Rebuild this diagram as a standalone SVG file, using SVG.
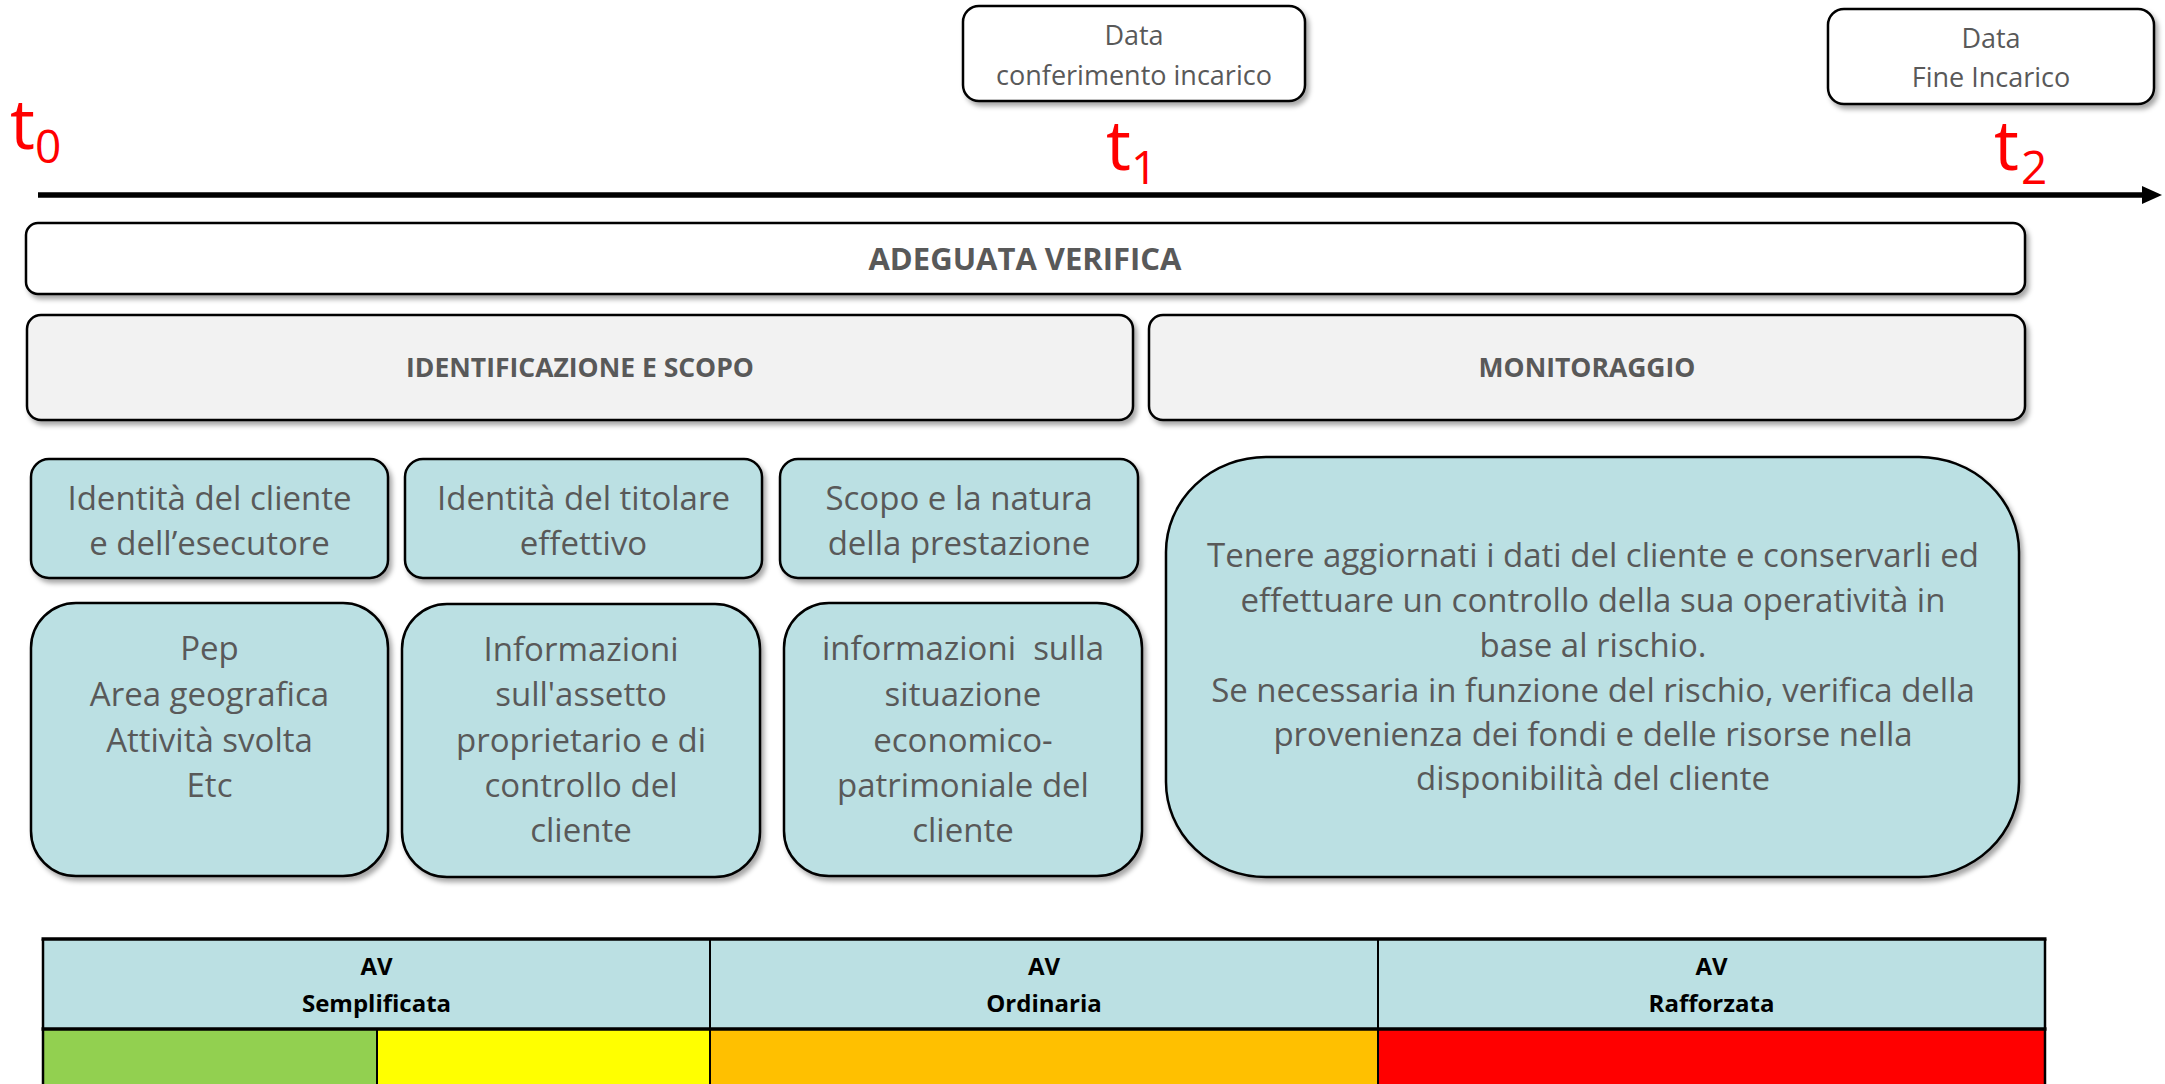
<svg xmlns="http://www.w3.org/2000/svg" width="2165" height="1084" viewBox="0 0 2165 1084">
<defs>
<filter id="sh" x="-5%" y="-5%" width="110%" height="120%">
<feDropShadow dx="3" dy="4" stdDeviation="2.5" flood-color="#000" flood-opacity="0.35"/>
</filter>
<marker id="ah" markerUnits="userSpaceOnUse" markerWidth="22" markerHeight="20" refX="2" refY="10" orient="auto">
<path d="M0,1 L20,10 L0,19 Z" fill="#000"/>
</marker>
<style>
.box{stroke:#000;stroke-width:2.5;filter:url(#sh)}
.white{fill:#fff}
.grey{fill:#f2f2f2}
.teal{fill:#bbe0e3}
.t{font-family:"Open Sans","Liberation Sans",sans-serif;fill:#595959;text-anchor:middle}
.n{font-size:33px}
.d{font-size:27px}
.b{font-weight:bold}
.red{font-family:"Open Sans","Liberation Sans",sans-serif;fill:#ff0000}
.tb{font-family:"Open Sans","Liberation Sans",sans-serif;font-weight:bold;font-size:24px;fill:#000;text-anchor:middle}
.ln{stroke:#000;fill:none}
</style>
</defs>
<rect width="2165" height="1084" fill="#fff"/>

<g id="connectors">
<line x1="38" y1="195" x2="2144" y2="195" stroke="#000" stroke-width="5.5" marker-end="url(#ah)"/>
</g>

<g id="t0">
<text class="red" x="10" y="149" font-size="70">t</text>
<text class="red" x="35" y="163" font-size="46">0</text>
</g>
<g id="t1">
<text class="red" x="1106" y="170" font-size="70">t</text>
<text class="red" x="1131" y="184" font-size="46">1</text>
</g>
<g id="t2">
<text class="red" x="1994" y="170" font-size="70">t</text>
<text class="red" x="2021" y="184" font-size="46">2</text>
</g>

<g id="data-conferimento">
<rect class="box white" x="963" y="6" width="342" height="95" rx="16"/>
<text class="t d" x="1134" y="45">Data</text>
<text class="t d" x="1134" y="85">conferimento incarico</text>
</g>
<g id="data-fine">
<rect class="box white" x="1828" y="9" width="326" height="95" rx="16"/>
<text class="t d" x="1991" y="48">Data</text>
<text class="t d" x="1991" y="87">Fine Incarico</text>
</g>

<g id="adeguata-verifica">
<rect class="box white" x="26" y="223" width="1999" height="71" rx="12"/>
<text class="t b" x="1025" y="270" font-size="31">ADEGUATA VERIFICA</text>
</g>
<g id="identificazione">
<rect class="box grey" x="27" y="315" width="1106" height="105" rx="14"/>
<text class="t b" x="580" y="377" font-size="26.5">IDENTIFICAZIONE E SCOPO</text>
</g>
<g id="monitoraggio">
<rect class="box grey" x="1149" y="315" width="876" height="105" rx="14"/>
<text class="t b" x="1587" y="377" font-size="26.5">MONITORAGGIO</text>
</g>

<g id="identita-cliente">
<rect class="box teal" x="31" y="459" width="357" height="119" rx="18"/>
<text class="t n" x="209.5" y="510">Identità del cliente</text>
<text class="t n" x="209.5" y="555">e dell’esecutore</text>
</g>
<g id="identita-titolare">
<rect class="box teal" x="405" y="459" width="357" height="119" rx="18"/>
<text class="t n" x="583.5" y="510">Identità del titolare</text>
<text class="t n" x="583.5" y="555">effettivo</text>
</g>
<g id="scopo-natura">
<rect class="box teal" x="780" y="459" width="358" height="119" rx="18"/>
<text class="t n" x="959" y="510">Scopo e la natura</text>
<text class="t n" x="959" y="555">della prestazione</text>
</g>

<g id="pep">
<rect class="box teal" x="31" y="603" width="357" height="273" rx="45"/>
<text class="t n" x="209.5" y="660">Pep</text>
<text class="t n" x="209.5" y="706">Area geografica</text>
<text class="t n" x="209.5" y="752">Attività svolta</text>
<text class="t n" x="209.5" y="797">Etc</text>
</g>
<g id="assetto">
<rect class="box teal" x="402" y="604" width="358" height="273" rx="45"/>
<text class="t n" x="581" y="661">Informazioni</text>
<text class="t n" x="581" y="706">sull'assetto</text>
<text class="t n" x="581" y="752">proprietario e di</text>
<text class="t n" x="581" y="797">controllo del</text>
<text class="t n" x="581" y="842">cliente</text>
</g>
<g id="situazione">
<rect class="box teal" x="784" y="603" width="358" height="273" rx="45"/>
<text class="t n" x="963" y="660" xml:space="preserve">informazioni  sulla</text>
<text class="t n" x="963" y="706">situazione</text>
<text class="t n" x="963" y="752">economico-</text>
<text class="t n" x="963" y="797">patrimoniale del</text>
<text class="t n" x="963" y="842">cliente</text>
</g>

<g id="monitoraggio-dettaglio">
<rect class="box teal" x="1166" y="457" width="853" height="420" rx="100" ry="95"/>
<text class="t n" x="1593" y="567">Tenere aggiornati i dati del cliente e conservarli ed</text>
<text class="t n" x="1593" y="612">effettuare un controllo della sua operatività in</text>
<text class="t n" x="1593" y="657">base al rischio.</text>
<text class="t n" x="1593" y="702">Se necessaria in funzione del rischio, verifica della</text>
<text class="t n" x="1593" y="746">provenienza dei fondi e delle risorse nella</text>
<text class="t n" x="1593" y="790">disponibilità del cliente</text>
</g>

<g id="tabella">
<rect x="43" y="939" width="2002" height="90" fill="#bbe0e3"/>
<rect x="43" y="1029" width="334" height="60" fill="#92d050"/>
<rect x="377" y="1029" width="333" height="60" fill="#ffff00"/>
<rect x="710" y="1029" width="668" height="60" fill="#ffc000"/>
<rect x="1378" y="1029" width="667" height="60" fill="#ff0000"/>
<line class="ln" x1="41.5" y1="939" x2="2046.5" y2="939" stroke-width="3.5"/>
<line class="ln" x1="41.5" y1="1029" x2="2046.5" y2="1029" stroke-width="3.5"/>
<line class="ln" x1="43" y1="939" x2="43" y2="1090" stroke-width="2.5"/>
<line class="ln" x1="2045" y1="939" x2="2045" y2="1090" stroke-width="2.5"/>
<line class="ln" x1="710" y1="939" x2="710" y2="1090" stroke-width="2"/>
<line class="ln" x1="1378" y1="939" x2="1378" y2="1090" stroke-width="2"/>
<line class="ln" x1="377" y1="1029" x2="377" y2="1090" stroke-width="2"/>
<text class="tb" x="376.5" y="975">AV</text>
<text class="tb" x="376.5" y="1012">Semplificata</text>
<text class="tb" x="1044" y="975">AV</text>
<text class="tb" x="1044" y="1012">Ordinaria</text>
<text class="tb" x="1711.5" y="975">AV</text>
<text class="tb" x="1711.5" y="1012">Rafforzata</text>
</g>
</svg>
